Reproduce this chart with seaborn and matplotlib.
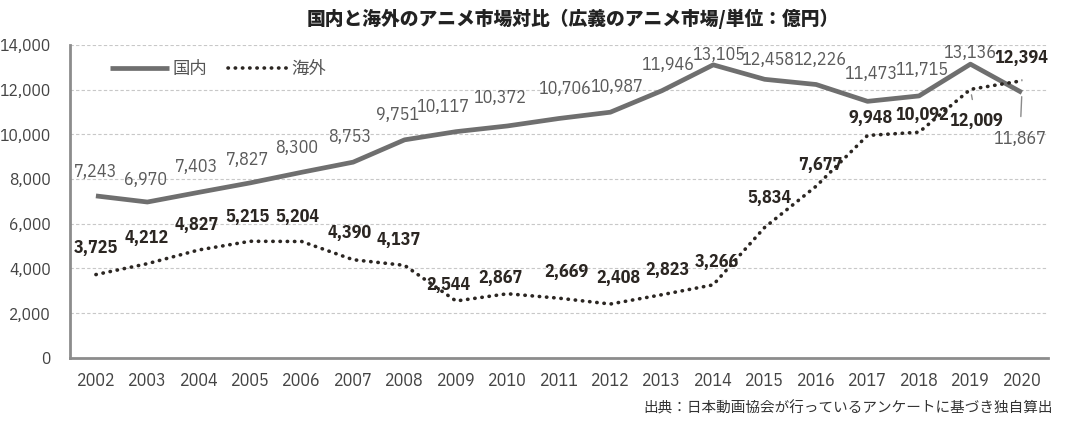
import matplotlib.pyplot as plt
import seaborn as sns
import pandas as pd
from matplotlib.ticker import FixedLocator

# データ
years = list(range(2002, 2021))
domestic = [7243, 6970, 7403, 7827, 8300, 8753, 9751, 10117, 10372, 10706,
            10987, 11946, 13105, 12458, 12226, 11473, 11715, 13136, 11867]
overseas = [3725, 4212, 4827, 5215, 5204, 4390, 4137, 2544, 2867, 2669,
            2408, 2823, 3266, 5834, 7677, 9948, 10092, 12009, 12394]
y_ticks = [0, 2000, 4000, 6000, 8000, 10000, 12000, 14000]

title = "国内と海外のアニメ市場対比（広義のアニメ市場/単位：億円）"
source = "出典：日本動画協会が行っているアンケートに基づき独自算出"

# ラベルのずらし量（ピクセル）
dom_off = [(0, 24), (-2, 22), (-2, 25), (-3, 23), (-5, 24), (-3, 25), (-7, 25),
           (-13, 25), (-8, 28), (6, 29), (6, 25), (6, 26), (5, 10), (3, 19),
           (3, 25), (3, 27), (3, 26), (-1, 11), (-2, -46)]
ovs_off = [(0, 27), (-1, 26), (-2, 25), (-3, 24), (-4, 25), (-4, 27), (-6, 25),
           (-7, 16), (-7, 16), (8, 26), (8, 26), (6, 25), (4, 23), (5, 29),
           (4, 21), (3, 17), (3, 17), (6, -32), (0, 23)]

df = pd.DataFrame({'year': years, 'domestic': domestic, 'overseas': overseas})

sns.set_style("white")
plt.rcParams['font.family'] = ['IBM Plex Sans Condensed', 'Noto Sans CJK JP', 'DejaVu Sans']
jp = ['Noto Sans CJK JP', 'DejaVu Sans']

fig = plt.figure(figsize=(10.8, 4.23), dpi=100)
ax = fig.add_axes([0.065, 0.154, 0.905, 0.740])

dom_color = '#6f6f6f'
ovs_color = '#2b2622'

sns.lineplot(data=df, x='year', y='domestic', ax=ax, color=dom_color,
             linewidth=3.4, label='国内', solid_capstyle='butt')
sns.lineplot(data=df, x='year', y='overseas', ax=ax, color=ovs_color,
             linewidth=2.6, label='海外', linestyle=(0, (0.1, 1.9)),
             dash_capstyle='round')

for i, (yr, v) in enumerate(zip(years, domestic)):
    dx, dy = dom_off[i]
    kw = {}
    if dy < 0:
        kw['arrowprops'] = dict(arrowstyle='-', color='#8a8a8a', lw=1,
                                shrinkA=7, shrinkB=3)
    ax.annotate(f"{v:,}", (yr, v), xytext=(dx, dy), textcoords='offset pixels',
                ha='center', va='center', fontsize=13, color='#5a5a5a', **kw)

for i, (yr, v) in enumerate(zip(years, overseas)):
    dx, dy = ovs_off[i]
    kw = {}
    if yr >= 2019:
        kw['arrowprops'] = dict(arrowstyle='-', color='#8a8a8a', lw=1,
                                shrinkA=7, shrinkB=4)
    ax.annotate(f"{v:,}", (yr, v), xytext=(dx, dy), textcoords='offset pixels',
                ha='center', va='center', fontsize=13, fontweight='bold',
                color=ovs_color, **kw)

ax.set_xlim(2001.5, 2020.5)
ax.set_ylim(0, 14000)
ax.set_xticks(years)
ax.set_xticklabels([str(y) for y in years])
ax.xaxis.set_minor_locator(FixedLocator([y + 0.5 for y in years]))
ax.set_yticks(y_ticks)
ax.set_yticklabels([f"{t:,}" for t in y_ticks])
ax.set_xlabel('')
ax.set_ylabel('')

ax.grid(axis='y', color='#c8c8c8', linestyle=(0, (3, 2)), linewidth=0.8)
ax.set_axisbelow(True)
for s in ['top', 'right']:
    ax.spines[s].set_visible(False)
for s in ['left', 'bottom']:
    ax.spines[s].set_color('#8c8c8c')
    ax.spines[s].set_linewidth(2)

ax.tick_params(axis='x', which='major', length=0, pad=10, labelsize=13,
               labelcolor='#444444')
ax.tick_params(axis='x', which='minor', direction='in', length=5, width=1.5,
               color='#8c8c8c')
ax.tick_params(axis='y', length=0, pad=14, labelsize=12.5, labelcolor='#444444')

leg = ax.legend(loc='upper left', ncol=2, frameon=False,
                prop={'family': jp, 'size': 12.5},
                handlelength=3.4, columnspacing=1.2, handletextpad=0.2,
                bbox_to_anchor=(0.025, 1.0))
for t in leg.get_texts():
    t.set_color('#555555')

fig.text(0.53, 0.955, title, ha='center', va='center', fontsize=13.5,
         fontweight='heavy', color='#222222', family=jp)
fig.text(0.975, 0.035, source, ha='right', va='center', fontsize=10.5,
         color='#333333', family=jp)

fig.savefig('out.png', dpi=100)
